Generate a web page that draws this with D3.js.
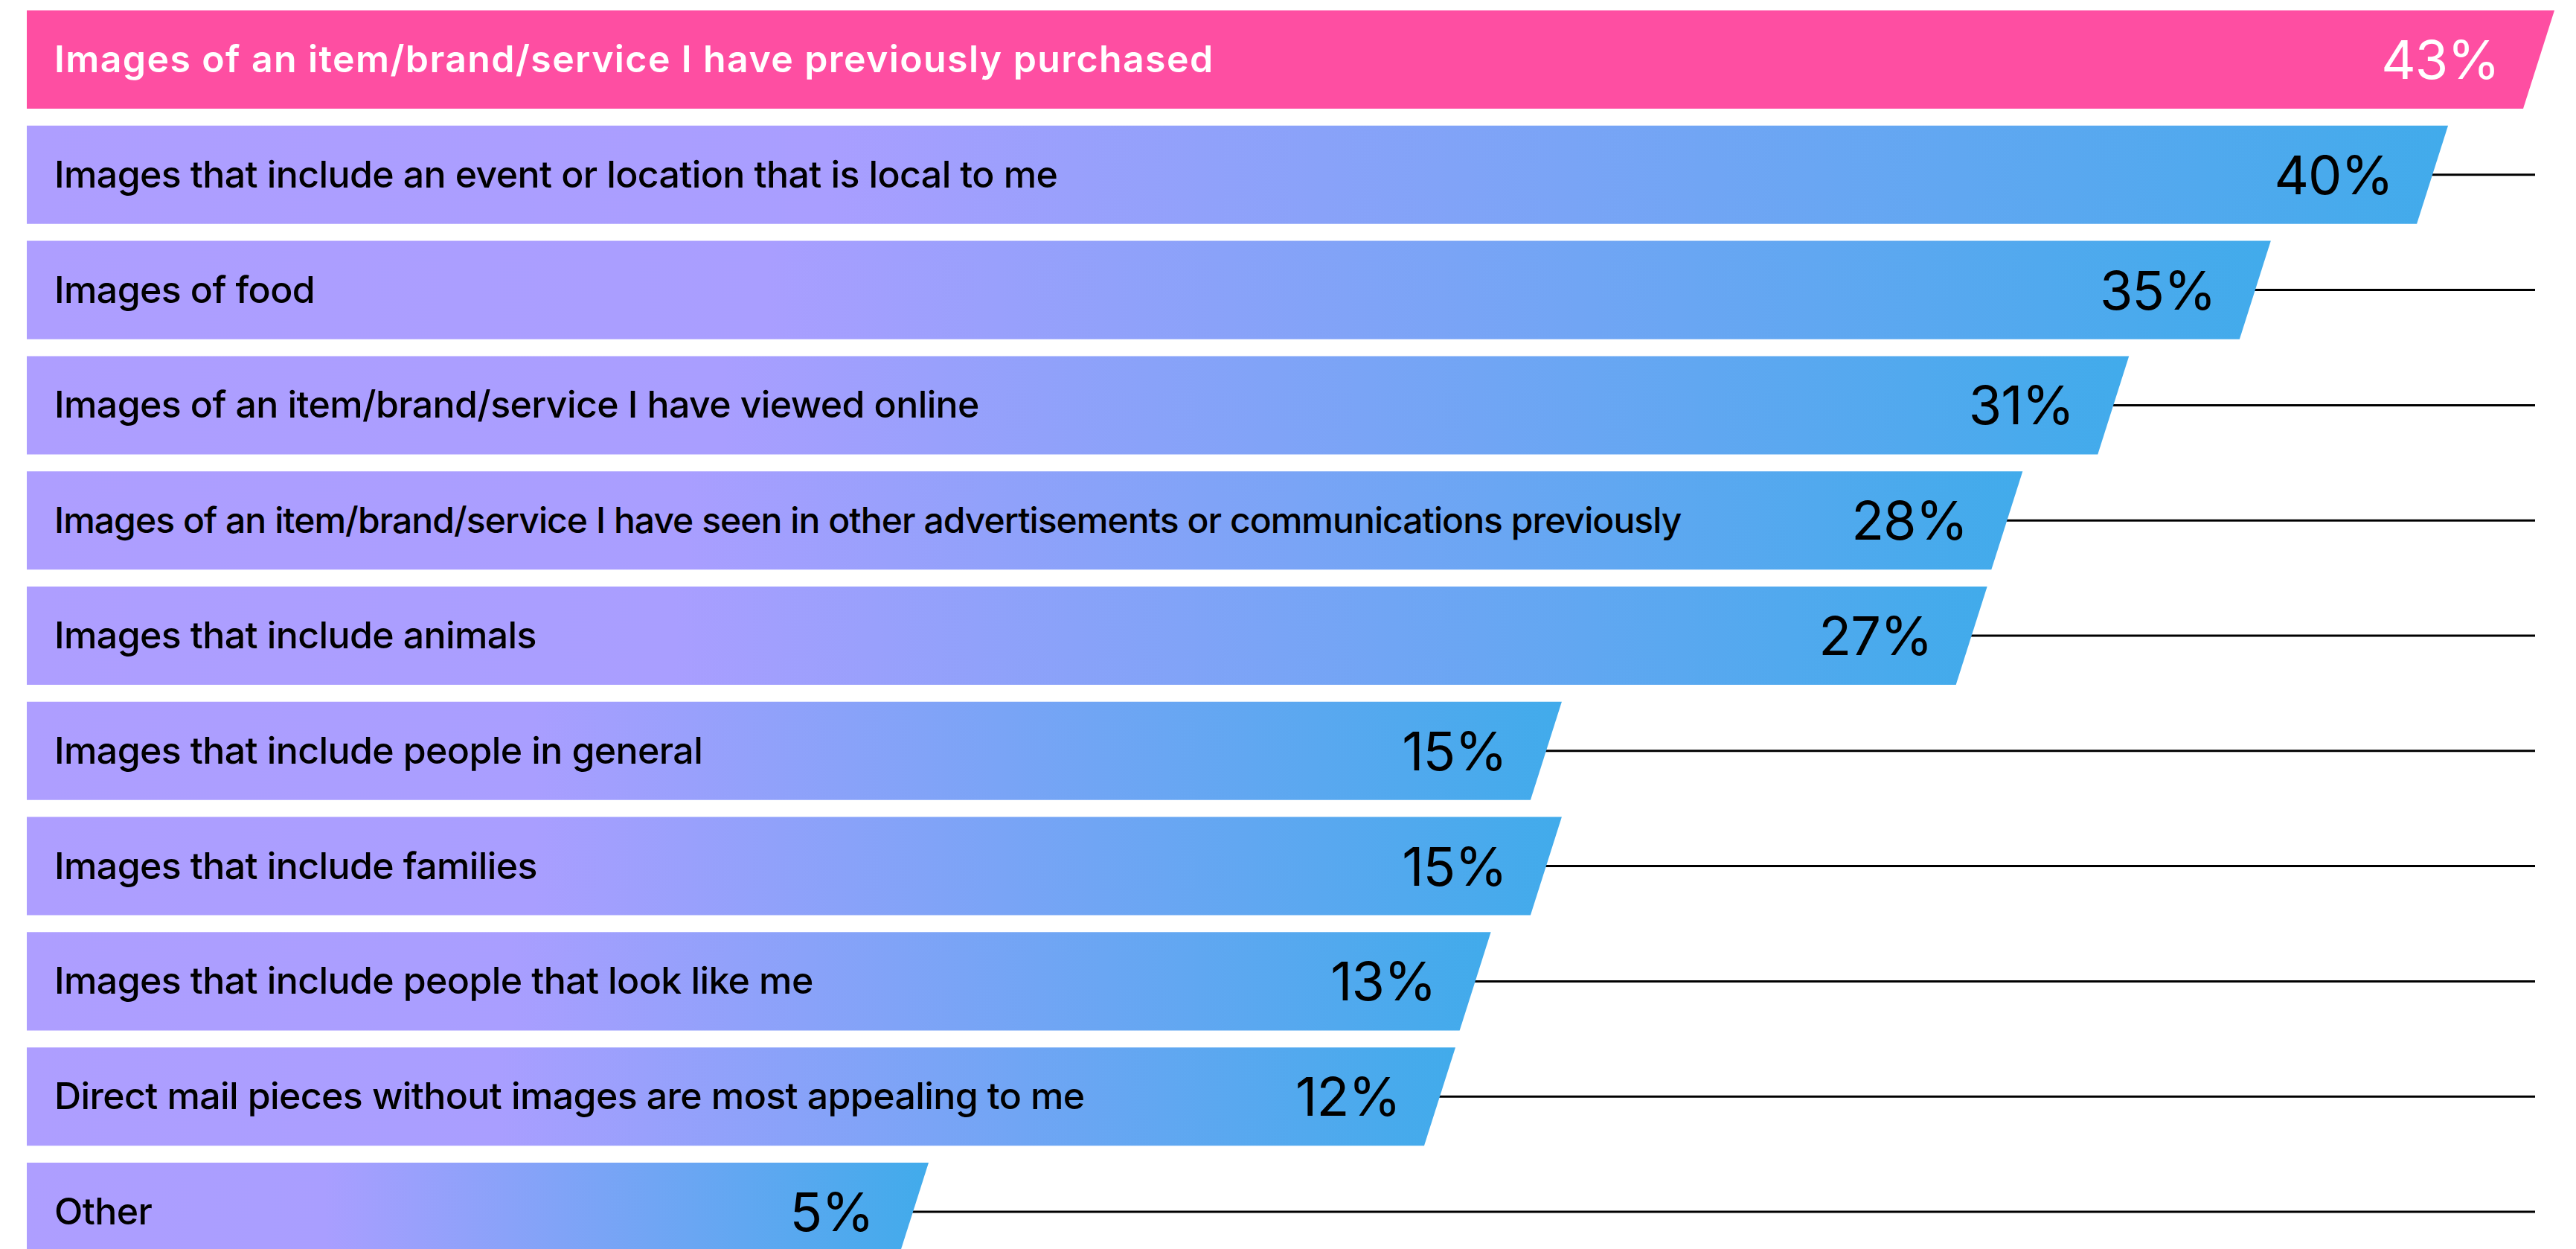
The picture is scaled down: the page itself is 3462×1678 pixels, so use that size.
<!DOCTYPE html>
<html>
<head>
<meta charset="utf-8">
<script src="https://cdn.jsdelivr.net/npm/d3@7"></script>
<style>
  html, body { margin: 0; padding: 0; background: #fff; }
  svg { display: block; }
</style>
</head>
<body>
<svg id="chart"></svg>
<script>
// Image types people find most appealing in direct mail
const categories = [
  "Images of an item/brand/service I have previously purchased",
  "Images that include an event or location that is local to me",
  "Images of food",
  "Images of an item/brand/service I have viewed online",
  "Images of an item/brand/service I have seen in other advertisements or communications previously",
  "Images that include animals",
  "Images that include people in general",
  "Images that include families",
  "Images that include people that look like me",
  "Direct mail pieces without images are most appealing to me",
  "Other"
];
const values = [43, 40, 35, 31, 28, 27, 15, 15, 13, 12, 5];
const highlighted = [true, false, false, false, false, false, false, false, false, false, false];

const W = 3462, H = 1678;
const left = 36, lineEnd = 3407, slant = 42;

const svg = d3.select("#chart").attr("width", W).attr("height", H);

const defs = svg.append("defs");
const grad = defs.append("linearGradient")
  .attr("id", "barGrad")
  .attr("x1", 0).attr("x2", 1).attr("y1", 0).attr("y2", 0);
grad.append("stop").attr("offset", 0).attr("stop-color", "#ae9eff");
grad.append("stop").attr("offset", 0.33).attr("stop-color", "#a99eff");
grad.append("stop").attr("offset", 1).attr("stop-color", "#41abeb");

// bar length: short bars keep a minimum footprint, then linear from 12% up
const x = d3.scaleLinear().domain([5, 12, 43]).range([1248, 1956, 3433]);

const y = d3.scaleBand()
  .domain(categories)
  .range([14, 1694])
  .paddingInner(0.147)
  .paddingOuter(0);

const rows = categories.map((c, i) => ({ label: c, value: values[i], hi: highlighted[i] }));

// per-row label styling: the highlighted row is heavier, the longest row is set tighter
const labelSize = d => d.label.length > 80 ? 48 : 50;
const labelWeight = d => d.hi ? 600 : 500;
const labelSpacing = d => d.hi ? 1.4 : (d.label.length > 80 ? -0.95 : -0.6);

// leader lines run out to a common right edge
svg.append("g").selectAll("line")
  .data(rows)
  .join("line")
  .attr("x1", d => x(d.value) - slant)
  .attr("x2", lineEnd)
  .attr("y1", d => y(d.label) + y.bandwidth() / 2)
  .attr("y2", d => y(d.label) + y.bandwidth() / 2)
  .attr("stroke", "#000")
  .attr("stroke-width", 3);

// slanted-end bars
svg.append("g").selectAll("polygon")
  .data(rows)
  .join("polygon")
  .attr("points", d => {
    const t = y(d.label), b = t + y.bandwidth(), r = x(d.value);
    return [[left, t], [r, t], [r - slant, b], [left, b]].map(p => p.join(",")).join(" ");
  })
  .attr("fill", d => d.hi ? "#fe4ea2" : "url(#barGrad)");

// category labels
svg.append("g").selectAll("text")
  .data(rows)
  .join("text")
  .attr("x", 73)
  .attr("y", d => y(d.label) + y.bandwidth() / 2 + 17)
  .attr("font-family", "Inter, 'Noto Sans', sans-serif")
  .attr("font-weight", labelWeight)
  .attr("font-size", labelSize)
  .attr("letter-spacing", labelSpacing)
  .attr("fill", d => d.hi ? "#fff" : "#000")
  .text(d => d.label);

// value labels
svg.append("g").selectAll("text")
  .data(rows)
  .join("text")
  .attr("x", d => x(d.value) - 74)
  .attr("y", d => y(d.label) + y.bandwidth() / 2 + 26)
  .attr("text-anchor", "end")
  .attr("font-family", "Inter, 'Noto Sans', sans-serif")
  .attr("font-weight", 400)
  .attr("font-size", 72)
  .attr("letter-spacing", -1)
  .attr("fill", d => d.hi ? "#fff" : "#000")
  .text(d => d.value + "%");
</script>
</body>
</html>
